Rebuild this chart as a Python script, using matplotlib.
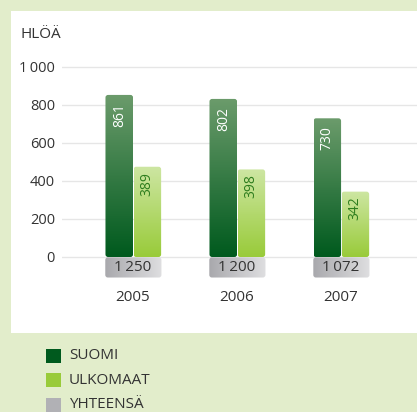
import numpy as np
import matplotlib
matplotlib.use("Agg")
import matplotlib.pyplot as plt
from matplotlib.patches import Rectangle, FancyBboxPatch
from matplotlib.colors import LinearSegmentedColormap

plt.rcParams['font.family'] = ['Open Sans', 'DejaVu Sans']

# data
years = ['2005', '2006', '2007']
suomi = [861, 802, 730]
ulkomaat = [389, 398, 342]
yhteensa = [1250, 1200, 1072]
# bar heights as drawn in the original picture (not quite to scale)
suomi_drawn = [853, 832, 730]
ulkomaat_drawn = [475, 461, 344]
legend_labels = ['SUOMI', 'ULKOMAAT', 'YHTEENSÄ']
y_ticks = [0, 200, 400, 600, 800, 1000]

dark_cmap = LinearSegmentedColormap.from_list('d', ['#005a1e', '#6b9b6b'])
light_cmap = LinearSegmentedColormap.from_list('l', ['#99cb3a', '#cde6a2'])
gray_cmap = LinearSegmentedColormap.from_list('g', ['#a9a9ad', '#dedee0'])

W, H = 417, 412
fig = plt.figure(figsize=(W / 100, H / 100), dpi=100)
fig.patch.set_facecolor('#e2edcb')
fig.add_artist(Rectangle((11 / W, 1 - 333 / H), 1, (333 - 11) / H,
                         transform=fig.transFigure, facecolor='white',
                         edgecolor='none', zorder=0))

ax_top, ax_bot = 60, 280
ax = fig.add_axes([62 / W, 1 - ax_bot / H, 1 - 62 / W, (ax_bot - ax_top) / H])
ax.set_facecolor('none')
upp = 1000 / 190.0

for s in ax.spines.values():
    s.set_visible(False)
ax.set_yticks(y_ticks)
ax.set_yticklabels([f'{v:,}'.replace(',', '\u2009') for v in y_ticks])
ax.tick_params(axis='y', length=0, pad=5, labelsize=10.5, labelcolor='#333333')
ax.grid(axis='y', color='#e6e6e6', linewidth=1)
ax.set_axisbelow(True)

x = np.arange(len(years))
bw = 0.265
ax.set_xticks(x)
ax.set_xticklabels(years)
ax.tick_params(axis='x', length=0, pad=7, labelsize=11, labelcolor='#333333')


def grad_box(x0, width, bottom, top, cmap, horizontal=False):
    patch = FancyBboxPatch((x0, bottom), width, top - bottom,
                           boxstyle='round,pad=0,rounding_size=0.025',
                           mutation_aspect=upp * 104,
                           facecolor='none', edgecolor='none')
    ax.add_patch(patch)
    g = np.linspace(0, 1, 64)
    g = g.reshape(1, -1) if horizontal else g.reshape(-1, 1)
    im = ax.imshow(g, cmap=cmap, aspect='auto', origin='lower',
                   extent=(x0, x0 + width, bottom, top), zorder=2)
    im.set_clip_path(patch)


for i in range(len(years)):
    xs = x[i] - bw / 2
    xu = x[i] + bw / 2 + 0.005
    grad_box(xs - bw / 2, bw, 0, suomi_drawn[i], dark_cmap)
    grad_box(xu - bw / 2, bw, 0, ulkomaat_drawn[i], light_cmap)
    ax.text(xs, suomi_drawn[i] - 42, str(suomi[i]), rotation=90, ha='center', va='top',
            color='white', fontsize=10, zorder=3)
    ax.text(xu, ulkomaat_drawn[i] - 27, str(ulkomaat[i]), rotation=90, ha='center', va='top',
            color='#2e7d1e', fontsize=10, zorder=3)
    # total box
    grad_box(x[i] - bw - 0.002, 2 * bw + 0.01, -108, -2, gray_cmap, horizontal=True)
    ax.text(x[i], -55, f'{yhteensa[i]:,}'.replace(',', '\u2009'), ha='center', va='center',
            color='#333333', fontsize=11, zorder=3)

ax.set_xlim(-0.683, 2.73)
ax.set_ylim(-(ax_bot - 257) * upp, 1000 + (67 - ax_top) * upp)

fig.text(21 / W, 1 - 35 / H, 'HLÖÄ', ha='left', va='center', fontsize=11, color='#333333')

# legend
leg_colors = ['#005a1e', '#99cb3a', '#b1b1b5']
for k, (lab, c) in enumerate(zip(legend_labels, leg_colors)):
    yc = 355.5 + k * 24.5
    fig.add_artist(Rectangle((46 / W, 1 - (yc + 7) / H), 15 / W, 14 / H,
                             transform=fig.transFigure, facecolor=c, edgecolor='none'))
    fig.text(69 / W, 1 - yc / H, lab, ha='left', va='center', fontsize=11, color='#333333')

fig.savefig('out.png', dpi=100, facecolor=fig.get_facecolor())
